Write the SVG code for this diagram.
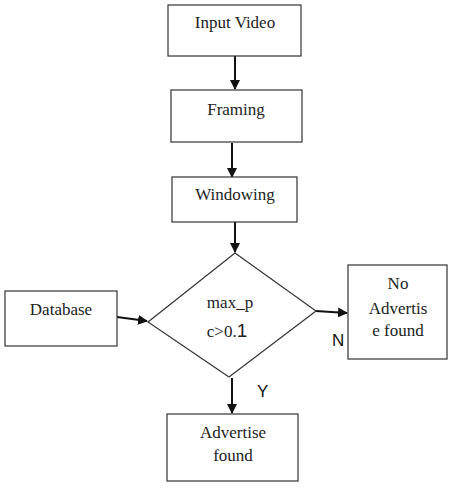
<svg xmlns="http://www.w3.org/2000/svg" width="451" height="497" viewBox="0 0 451 497">
<style>
.box{fill:#fff;stroke:#333;stroke-width:1.2}
.t{font-family:"Liberation Serif",serif;font-size:17px;fill:#222;text-anchor:middle}
.s{font-family:"Liberation Sans",sans-serif;font-size:17px;fill:#111}
.c{stroke:#111;stroke-width:2;fill:none;marker-end:url(#ah)}
</style>
<defs>
<marker id="ah" markerWidth="10" markerHeight="10" refX="9" refY="5" orient="auto" markerUnits="userSpaceOnUse">
<path d="M0,0 L10,5 L0,10 Z" fill="#111"/>
</marker>
</defs>
<rect width="451" height="497" fill="#fff"/>
<g id="connectors">
<line class="c" x1="235" y1="56" x2="235" y2="89"/>
<line class="c" x1="232" y1="143" x2="232" y2="177"/>
<line class="c" x1="235" y1="222" x2="235" y2="252"/>
<line class="c" x1="117" y1="317" x2="147" y2="321"/>
<line class="c" x1="316" y1="311" x2="347" y2="313"/>
<line class="c" x1="232" y1="378" x2="232" y2="413"/>
<text class="s" x="332" y="346">N</text>
<text class="s" x="257" y="397">Y</text>
</g>
<g id="input">
<rect class="box" x="168" y="5" width="133" height="51"/>
<text class="t" x="235" y="28">Input Video</text>
</g>
<g id="framing">
<rect class="box" x="171" y="90" width="131" height="52"/>
<text class="t" x="236" y="115">Framing</text>
</g>
<g id="windowing">
<rect class="box" x="172" y="177" width="125" height="45"/>
<text class="t" x="235" y="200">Windowing</text>
</g>
<g id="decision">
<polygon class="box" points="235,253 316,311 229,377 148,322"/>
<text class="t" x="230" y="308">max_p</text>
<text class="t" x="227" y="337">c&gt;0.<tspan style="font-family:'Liberation Sans',sans-serif;font-size:19px">1</tspan></text>
</g>
<g id="database">
<rect class="box" x="5" y="291" width="112" height="55"/>
<text class="t" x="61" y="315">Database</text>
</g>
<g id="noad">
<rect class="box" x="348" y="265" width="99" height="94"/>
<text class="t" x="398" y="289">No</text>
<text class="t" x="398" y="314">Advertis</text>
<text class="t" x="398" y="336">e found</text>
</g>
<g id="found">
<rect class="box" x="167" y="414" width="131" height="67"/>
<text class="t" x="233" y="438">Advertise</text>
<text class="t" x="233" y="461">found</text>
</g>
</svg>
